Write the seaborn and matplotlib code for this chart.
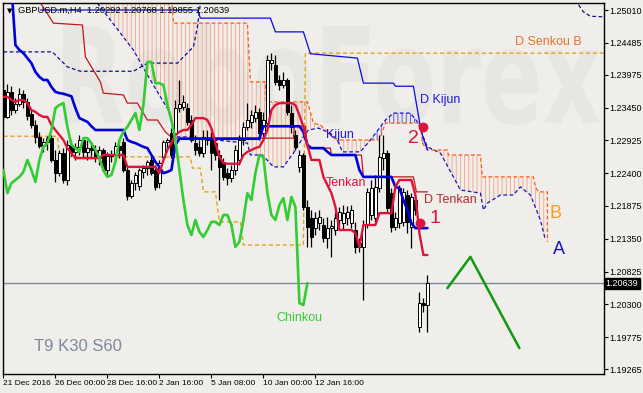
import numpy as np
import matplotlib
matplotlib.use("Agg")
import matplotlib.pyplot as plt
import seaborn as sns
from matplotlib.textpath import TextPath
from matplotlib.patches import PathPatch
from matplotlib.font_manager import FontProperties
from matplotlib.transforms import Affine2D, blended_transform_factory

# ---------------- data (bar index, price) ----------------
opens = [1.2373,1.2330,1.2370,1.2341,1.2351,1.2367,1.2354,1.2335,1.2317,1.2298,
         1.2283,1.2290,1.2296,1.2261,1.2240,1.2272,1.2229,1.2285,1.2274,1.2282,
         1.2293,1.2274,1.2280,1.2277,1.2264,1.2277,1.2245,1.2267,1.2269,1.2283,
         1.2290,1.2245,1.2203,1.2224,1.2219,1.2242,1.2248,1.2261,1.2245,1.2224,
         1.2266,1.2290,1.2304,1.2304,1.2344,1.2346,1.2344,1.2325,1.2288,1.2282,
         1.2272,1.2293,1.2293,1.2288,1.2269,1.2258,1.2240,1.2232,1.2245,1.2261,
         1.2293,1.2314,1.2322,1.2328,1.2338,1.2304,1.2320,1.2416,1.2413,1.2389,
         1.2381,1.2389,1.2336,1.2301,1.2250,1.2269,1.2186,1.2168,1.2152,1.2160,
         1.2157,1.2136,1.2152,1.2149,1.2165,1.2160,1.2168,1.2160,1.2149,1.2122,
         1.2122,1.2157,1.2173,1.2168,1.2216,1.2264,1.2272,1.2208,1.2154,1.2160,
         1.2162,1.2205,1.2154,1.2197,1.1994,1.2032,1.20292]
highs = [1.2389,1.2383,1.2379,1.2360,1.2376,1.2373,1.2360,1.2341,1.2325,1.2306,
         1.2296,1.2299,1.2301,1.2277,1.2277,1.2280,1.2293,1.2293,1.2288,1.2301,
         1.2296,1.2293,1.2290,1.2285,1.2283,1.2280,1.2274,1.2277,1.2290,1.2293,
         1.2296,1.2253,1.2229,1.2242,1.2248,1.2253,1.2261,1.2269,1.2253,1.2261,
         1.2293,1.2296,1.2312,1.2357,1.2389,1.2365,1.2352,1.2333,1.2301,1.2293,
         1.2309,1.2309,1.2306,1.2296,1.2277,1.2264,1.2248,1.2253,1.2285,1.2301,
         1.2322,1.2352,1.2341,1.2349,1.2344,1.2338,1.2429,1.2432,1.2429,1.2397,
         1.2402,1.2392,1.2349,1.2309,1.2277,1.2272,1.2197,1.2181,1.2178,1.2181,
         1.2168,1.2170,1.2165,1.2178,1.2186,1.2189,1.2187,1.2189,1.2162,1.2136,
         1.2165,1.2216,1.2229,1.2237,1.2301,1.2301,1.2277,1.2216,1.2178,1.2221,
         1.2216,1.2213,1.2208,1.2203,1.2050,1.2040,1.20768]
lows = [1.2325,1.2328,1.2333,1.2336,1.2347,1.2344,1.2325,1.2312,1.2288,1.2280,
        1.2274,1.2277,1.2258,1.2226,1.2235,1.2224,1.2221,1.2267,1.2261,1.2269,
        1.2264,1.2261,1.2267,1.2258,1.2253,1.2242,1.2237,1.2258,1.2261,1.2264,
        1.2242,1.2197,1.2200,1.2213,1.2213,1.2232,1.2237,1.2237,1.2213,1.2216,
        1.2261,1.2277,1.2264,1.2301,1.2338,1.2341,1.2317,1.2290,1.2269,1.2267,
        1.2266,1.2285,1.2245,1.2261,1.2197,1.2229,1.2221,1.2226,1.2237,1.2253,
        1.2285,1.2309,1.2312,1.2322,1.2293,1.2296,1.2317,1.2405,1.2381,1.2373,
        1.2376,1.2333,1.2304,1.2277,1.2242,1.2181,1.2122,1.2122,1.2141,1.2149,
        1.2130,1.2120,1.2106,1.2141,1.2157,1.2149,1.2157,1.2152,1.2112,1.2114,
        1.2037,1.2152,1.2165,1.2162,1.2210,1.2245,1.2178,1.2146,1.2149,1.2152,
        1.2155,1.2144,1.2120,1.2173,1.1986,1.2018,1.19855]
closes = [1.2330,1.2370,1.2341,1.2351,1.2367,1.2354,1.2331,1.2317,1.2298,1.2283,
          1.2290,1.2296,1.2261,1.2240,1.2272,1.2229,1.2285,1.2274,1.2282,1.2293,
          1.2274,1.2280,1.2277,1.2264,1.2277,1.2245,1.2267,1.2269,1.2283,1.2277,
          1.2245,1.2203,1.2224,1.2237,1.2245,1.2248,1.2258,1.2240,1.2218,1.2256,
          1.2290,1.2293,1.2269,1.2344,1.2351,1.2354,1.2322,1.2293,1.2277,1.2272,
          1.2298,1.2296,1.2272,1.2269,1.2250,1.2234,1.2232,1.2245,1.2277,1.2293,
          1.2314,1.2325,1.2333,1.2338,1.2304,1.2325,1.2421,1.2421,1.2386,1.2381,
          1.2389,1.2338,1.2314,1.2282,1.2269,1.2186,1.2154,1.2138,1.2168,1.2170,
          1.2136,1.2152,1.2155,1.2168,1.2178,1.2176,1.2178,1.2181,1.2122,1.2128,
          1.2157,1.2210,1.2216,1.2218,1.2266,1.2272,1.2184,1.2154,1.2168,1.2216,
          1.2210,1.2162,1.2202,1.2181,1.2032,1.2029,1.20639]

tenkan = [1.2362,1.2362,1.2357,1.2354,1.2357,1.2357,1.2352,1.2341,1.2338,1.2333,
          1.2330,1.2330,1.2317,1.2309,1.2301,1.2293,1.2280,1.2272,1.2264,1.2264,
          1.2264,1.2264,1.2264,1.2264,1.2264,1.2269,1.2269,1.2269,1.2269,1.2269,
          1.2269,1.2250,1.2250,1.2250,1.2250,1.2250,1.2250,1.2250,1.2250,1.2240,
          1.2261,1.2277,1.2288,1.2301,1.2306,1.2309,1.2309,1.2317,1.2328,1.2328,
          1.2328,1.2325,1.2312,1.2288,1.2266,1.2256,1.2255,1.2255,1.2255,1.2255,
          1.2269,1.2274,1.2277,1.2280,1.2282,1.2293,1.2309,1.2341,1.2349,1.2352,
          1.2352,1.2352,1.2352,1.2349,1.2333,1.2314,1.2285,1.2261,1.2261,1.2261,
          1.2234,1.2221,1.2208,1.2186,1.2149,1.2149,1.2149,1.2149,1.2144,1.2122,
          1.2157,1.2157,1.2157,1.2157,1.2176,1.2176,1.2176,1.2176,1.2218,1.2229,
          1.2229,1.2229,1.2229,1.2205,1.2144,1.2109,1.2109]
kijun = [1.2540,1.2540,1.2540,1.2445,1.2437,1.2432,1.2424,1.2416,1.2402,1.2394,
         1.2389,1.2389,1.2378,1.2370,1.2368,1.2367,1.2365,1.2363,1.2344,1.2328,
         1.2325,1.2322,1.2315,1.2309,1.2309,1.2309,1.2309,1.2309,1.2309,1.2309,
         1.2309,1.2293,1.2290,1.2288,1.2285,1.2282,1.2280,1.2269,1.2258,1.2250,
         1.2240,1.2242,1.2245,1.2285,1.2295,1.2295,1.2295,1.2295,1.2295,1.2295,
         1.2295,1.2295,1.2295,1.2295,1.2295,1.2295,1.2295,1.2295,1.2295,1.2295,
         1.2295,1.2295,1.2295,1.2295,1.2295,1.2315,1.2315,1.2315,1.2315,1.2315,
         1.2315,1.2315,1.2315,1.2315,1.2315,1.2306,1.2285,1.2280,1.2280,1.2280,
         1.2280,1.2274,1.2269,1.2269,1.2269,1.2269,1.2269,1.2269,1.2269,1.2245,
         1.2234,1.2234,1.2234,1.2234,1.2234,1.2234,1.2234,1.2234,1.2218,1.2216,
         1.2197,1.2181,1.2160,1.2152,1.2152,1.2152,1.2152]
chinkou = [1.2245,1.2208,1.2224,1.2229,1.2234,1.2242,1.2261,1.2245,1.2226,1.2261,
           1.2282,1.2288,1.2309,1.2344,1.2349,1.2352,1.2314,1.2285,1.2280,1.2274,
           1.2296,1.2296,1.2288,1.2277,1.2264,1.2245,1.2234,1.2237,1.2258,1.2293,
           1.2306,1.2314,1.2325,1.2336,1.2309,1.2349,1.2418,1.2418,1.2384,1.2384,
           1.2381,1.2349,1.2325,1.2293,1.2245,1.2197,1.2157,1.2141,1.2165,1.2146,
           1.2138,1.2149,1.2162,1.2162,1.2157,1.2173,1.2173,1.2157,1.2122,1.2130,
           1.2165,1.2208,1.2197,1.2240,1.2269,1.2266,1.2208,1.2173,1.2165,1.2189,
           1.2200,1.2165,1.2202,1.2186,1.2032,1.2029,1.2064]

# H4 cloud (already shifted forward)
senA_x = [23.5,26.75,29.25,32.5,36,39.25,41.25,42.25,43.5,46.75,53,61,61.75,64.75,67.5,70,
          72.5,75,76.25,78.75,81.75,83.5,84.75,89.25,91.75,94.25,95.5,97.5,101.75,103.75,
          104.75,106,109.25,112.5,114.25,119.25,120,121,124.25,127.5,129.25,131.75,134.25,135.5]
senA_y = [1.2512,1.2485,1.2464,1.2437,1.2397,1.2362,1.2341,1.2317,1.2298,1.2298,1.2293,1.2288,
          1.2269,1.2269,1.2250,1.2250,1.2272,1.2298,1.2309,1.2312,1.2304,1.2293,1.2274,1.2274,
          1.2293,1.2314,1.2325,1.2336,1.2336,1.2320,1.2301,1.2282,1.2272,1.2234,1.2213,1.2208,
          1.2181,1.2192,1.2205,1.2205,1.2218,1.2205,1.2165,1.2133]
senB_x = [23.5,41.75,42.5,61,61.75,65.5,65.75,76,77.5,79.25,82.5,84.25,94.0,95.5,104.25,
          104.75,106,111,111.25,119.25,119.75,132.5,133,133.75,136,136.01]
senB_y = [1.2549,1.2549,1.2480,1.2480,1.2386,1.2386,1.2354,1.2354,1.2320,1.2317,1.2296,1.2293,
          1.2293,1.2320,1.2320,1.2288,1.2277,1.2277,1.2269,1.2269,1.2234,1.2234,1.2218,1.2210,
          1.2210,1.2130]

# Daily Ichimoku lines projected on H4
dten_x = [8,12.5,19.75,20.5,24.25,25,30,31,33.5,36,38.5,40.5,42.25,72.5,72.75,75.5,76,81.75,
          82,89.5,90,102.5,103.25,106]
dten_y = [1.2525,1.2480,1.2477,1.2426,1.2386,1.2368,1.2365,1.2352,1.2352,1.2325,1.2325,1.2306,
          1.2296,1.2296,1.2315,1.2315,1.2280,1.2280,1.2269,1.2269,1.2234,1.2234,1.2210,1.2210]
dkij_x = [9.25,48.5,49.25,66.75,68,75,76.75,88.5,90,97.5,98,102.5,104.25,104.75,106]
dkij_y = [1.2501,1.2501,1.2488,1.2488,1.2466,1.2466,1.2431,1.2424,1.2384,1.2384,1.2379,1.2379,
          1.2314,1.2301,1.2277]
dsa1_x = [0,12.25,13,16,19.25,32.5,36,43.5,47.5,48.5,49.25,49.75]
dsa1_y = [1.2434,1.2434,1.2429,1.2410,1.2403,1.2403,1.2416,1.2416,1.2442,1.2474,1.2512,1.2533]
dsa2_x = [143,143.5,145,146.75,150.25]
dsa2_y = [1.2525,1.2512,1.2498,1.2491,1.2490]
dsb_x = [0,13.5,14,46.75,47.25,49.25,50,53,54,59.25,60,75,75.5,150.25]
dsb_y = [1.2299,1.2299,1.2266,1.2266,1.2248,1.2248,1.2210,1.2210,1.2162,1.2162,1.2125,1.2125,
         1.2432,1.2432]

# forecast zigzag and signal points
zz_x = [111, 116.75, 129]
zz_y = [1.2056, 1.2106, 1.1960]
dot_x = [105, 104.25]
dot_y = [1.2314, 1.2160]

last_price = 1.20639
ytick_vals = [1.25010,1.24485,1.23975,1.23450,1.22925,1.22400,1.21875,1.21350,1.20825,
              1.20300,1.19775,1.19265]
xtick_pos = [0, 13, 26, 39, 52, 65, 78]
xtick_lbl = ["21 Dec 2016", "26 Dec 00:00", "28 Dec 16:00", "2 Jan 16:00",
             "5 Jan 08:00", "10 Jan 00:00", "12 Jan 16:00"]

# ---------------- style ----------------
sns.set_theme(style="white")
plt.rcParams['font.family'] = ['Liberation Sans', 'DejaVu Sans']
plt.rcParams['hatch.linewidth'] = 0.6

BG = '#efeeea'
W, H = 643, 393
fig = plt.figure(figsize=(W/100, H/100), dpi=100, facecolor=BG)
ax = fig.add_axes([3/W, 19/H, 601/W, 371/H])
ax.set_facecolor(BG)
ax.set_xlim(-0.1, 150.15)
ax.set_ylim(1.19186, 1.25122)

# watermark
tp = TextPath((0, 0), "RoboForex", size=100, prop=FontProperties(family='DejaVu Sans', weight='bold'))
ext = tp.get_extents()
sx = (600 - 63) / ext.width
sy = (125 - 22) / ext.height
tr = (Affine2D().translate(-ext.x0, -ext.y0).scale(sx, sy).translate(63, H - 125)
      .scale(1 / W, 1 / H) + fig.transFigure)
ax.add_patch(PathPatch(tp, transform=tr, facecolor='#e7e6e2', edgecolor='none',
                       zorder=0.2, clip_on=False))

# cloud hatch
xs = np.linspace(senA_x[0], senB_x[-1], 3000)
a = np.interp(xs, senA_x, senA_y)
b = np.interp(xs, senB_x, senB_y)
ax.fill_between(xs, a, b, where=b >= a, interpolate=True, facecolor='none',
                edgecolor='#f7a182', hatch='||||', linewidth=0, zorder=1)
ax.fill_between(xs, a, b, where=a > b, interpolate=True, facecolor='none',
                edgecolor='#4a4ad8', hatch='||||', linewidth=0, zorder=1)

dash = (0, (3, 2))
sns.lineplot(x=senA_x, y=senA_y, ax=ax, color='#1414c8', lw=0.9, linestyle=dash,
             estimator=None, sort=False, zorder=2)
sns.lineplot(x=senB_x, y=senB_y, ax=ax, color='#ff5a14', lw=0.9, linestyle=dash,
             estimator=None, sort=False, zorder=2)
sns.lineplot(x=dsa1_x, y=dsa1_y, ax=ax, color='#10108a', lw=0.9, linestyle=dash,
             estimator=None, sort=False, zorder=2)
sns.lineplot(x=dsa2_x, y=dsa2_y, ax=ax, color='#10108a', lw=0.9, linestyle=dash,
             estimator=None, sort=False, zorder=2)
sns.lineplot(x=dsb_x, y=dsb_y, ax=ax, color='#e5a21a', lw=1.0, linestyle=dash,
             estimator=None, sort=False, zorder=2)
sns.lineplot(x=dten_x, y=dten_y, ax=ax, color='#c01818', lw=0.9,
             estimator=None, sort=False, zorder=2)
sns.lineplot(x=dkij_x, y=dkij_y, ax=ax, color='#0a0ae6', lw=0.9,
             estimator=None, sort=False, zorder=2)

ax.axhline(last_price, color='#7a8898', lw=1.0, zorder=2)

# candles
idx = np.arange(len(closes))
o = np.array(opens); c = np.array(closes); hi = np.array(highs); lo = np.array(lows)
ax.vlines(idx, lo, hi, color='black', lw=0.9, zorder=3)
up = c >= o
body_lo = np.minimum(o, c)
body_h = np.maximum(np.abs(c - o), 0.00004)
ax.bar(idx[up], body_h[up], bottom=body_lo[up], width=0.72, color='white',
       edgecolor='black', linewidth=0.7, zorder=4)
ax.bar(idx[~up], body_h[~up], bottom=body_lo[~up], width=0.72, color='black',
       edgecolor='black', linewidth=0.7, zorder=4)

# main indicator lines
sns.lineplot(x=idx, y=kijun, ax=ax, color='#0000d8', lw=1.9, estimator=None, sort=False, zorder=5)
sns.lineplot(x=idx, y=tenkan, ax=ax, color='#dc143c', lw=1.7, estimator=None, sort=False, zorder=6)
sns.lineplot(x=np.arange(len(chinkou)), y=chinkou, ax=ax, color='#32cd32', lw=1.9,
             estimator=None, sort=False, zorder=6)
sns.lineplot(x=zz_x, y=zz_y, ax=ax, color='#109a10', lw=1.8, estimator=None, sort=False, zorder=6)
ax.scatter(dot_x, dot_y, s=50, color='#dc143c', zorder=7, linewidths=0)

# labels
ax.text(128, 1.2450, "D Senkou B", color='#e8722c', fontsize=9, va='center', ha='left', zorder=8)
ax.text(104.25, 1.2357, "D Kijun", color='#1a1ae0', fontsize=9, va='center', ha='left', zorder=8)
ax.text(80.75, 1.2301, "Kijun", color='#1a1ae0', fontsize=9, va='center', ha='left', zorder=8)
ax.text(80.5, 1.2224, "Tenkan", color='#dc143c', fontsize=9, va='center', ha='left', zorder=8)
ax.text(105.25, 1.2197, "D Tenkan", color='#b8282e', fontsize=9, va='center', ha='left', zorder=8)
ax.text(102.5, 1.2296, "2", color='#dc143c', fontsize=14, va='center', ha='center', zorder=8)
ax.text(108, 1.2168, "1", color='#dc143c', fontsize=14, va='center', ha='center', zorder=8)
ax.text(138, 1.2176, "B", color='#ff9a1a', fontsize=13, va='center', ha='center', zorder=8)
ax.text(139, 1.2117, "A", color='#1515c8', fontsize=13, va='center', ha='center', zorder=8)
ax.text(74, 1.2008, "Chinkou", color='#32cd32', fontsize=9, va='center', ha='center', zorder=8)
ax.text(18.75, 1.1962, "T9 K30 S60", color='#7a8a9c', fontsize=12, va='center', ha='center', zorder=8)
ax.text(0.025, 0.981, "GBPUSD.m,H4  1.20292 1.20768 1.19855 1.20639", transform=ax.transAxes,
        fontsize=6.7, color='black', va='center', ha='left', zorder=9)
ax.text(0.011, 0.978, "\u25BC", transform=ax.transAxes, fontsize=5, color='black',
        va='center', ha='center', zorder=9, family='DejaVu Sans')

# axes
for s in ax.spines.values():
    s.set_color('black'); s.set_linewidth(1.0); s.set_visible(True)
ax.yaxis.tick_right()
ax.set_yticks(ytick_vals)
ax.set_yticklabels([f"{v:.5f}" for v in ytick_vals])
ax.set_xticks(xtick_pos)
ax.set_xticklabels(xtick_lbl)
for lbl in ax.get_xticklabels():
    lbl.set_ha('left')
ax.tick_params(axis='y', which='both', right=True, left=False, direction='out', length=3,
               width=0.8, color='black', labelsize=6.5, pad=1.0, labelcolor='black')
ax.tick_params(axis='x', which='both', bottom=True, direction='out', length=3,
               width=0.8, color='black', labelsize=6, pad=1.5, labelcolor='black')
ax.grid(False)
ax.set_xlabel(""); ax.set_ylabel("")

trans = blended_transform_factory(ax.transAxes, ax.transData)
ax.text(1.003, last_price, "1.20639", transform=trans, color='white', fontsize=6.5,
        va='center', ha='left', zorder=10,
        bbox=dict(boxstyle='square,pad=0.12', facecolor='black', edgecolor='black'))

fig.savefig("out.png", dpi=100, facecolor=BG)
